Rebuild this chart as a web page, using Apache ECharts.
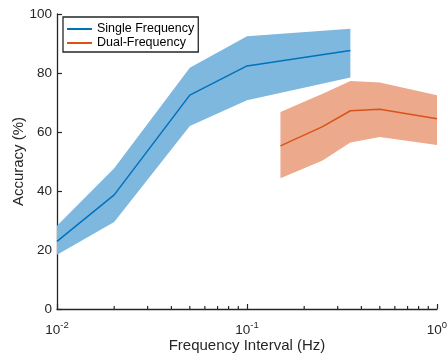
<!DOCTYPE html>
<html><head><meta charset="utf-8">
<script src="https://cdn.jsdelivr.net/npm/echarts@6/dist/echarts.min.js"></script>
<style>html,body{margin:0;padding:0;background:#fff}#c{width:448px;height:356px}</style>
</head><body><div id="c"></div>
<script>
// Data
const singleX     = [0.01, 0.02, 0.05, 0.1, 0.35];
const singleMean  = [22.9, 38.7, 72.5, 82.4, 87.6];
const singleUpper = [28.2, 47.7, 81.8, 92.5, 95.0];
const singleLower = [18.4, 29.5, 62.0, 70.8, 78.5];

const dualX     = [0.15, 0.25, 0.35, 0.5, 1.0];
const dualMean  = [55.3, 61.8, 67.2, 67.7, 64.5];
const dualUpper = [66.8, 73.0, 77.3, 76.8, 72.5];
const dualLower = [44.3, 50.3, 56.4, 58.3, 55.6];

const minorTickX = [0.02,0.03,0.04,0.05,0.06,0.07,0.08,0.09,0.2,0.3,0.4,0.5,0.6,0.7,0.8,0.9];

const blue = '#0072BD', orange = '#D95319';
const blueFill = '#7FB8DE', orangeFill = '#ECA98C';
const axisColor = '#262626';
const font = 'Liberation Sans, Arial, Helvetica, sans-serif';

function band(xs, up, lo, fill) {
  return {
    type: 'custom',
    silent: true,
    z: 1,
    data: [[xs[0], up[0]]],
    renderItem: function (params, api) {
      const pts = [];
      for (let i = 0; i < xs.length; i++) pts.push(api.coord([xs[i], up[i]]));
      for (let i = xs.length - 1; i >= 0; i--) pts.push(api.coord([xs[i], lo[i]]));
      return { type: 'polygon', shape: { points: pts }, style: { fill: fill, stroke: null } };
    }
  };
}

const chart = echarts.init(document.getElementById('c'), null, { renderer: 'canvas' });
chart.setOption({
  animation: false,
  backgroundColor: '#fff',
  grid: { left: 57, right: 11, top: 14, bottom: 47, containLabel: false, outerBoundsMode: 'none' },
  legend: {
    data: ['Single Frequency', 'Dual-Frequency'],
    orient: 'vertical',
    left: 63, top: 17,
    backgroundColor: '#fff',
    borderColor: axisColor, borderWidth: 1.3, borderRadius: 0,
    padding: [5, 4, 2, 4],
    itemGap: 0,
    itemWidth: 25, itemHeight: 2,
    icon: 'rect',
    textStyle: { fontFamily: font, fontSize: 12.5, lineHeight: 14, color: '#000' }
  },
  xAxis: {
    type: 'log', logBase: 10, min: 0.01, max: 1,
    name: 'Frequency Interval (Hz)', nameLocation: 'middle', nameGap: 29, nameMoveOverlap: false,
    nameTextStyle: { fontFamily: font, fontSize: 15, color: axisColor },
    axisLine: { lineStyle: { color: axisColor, width: 1.3 } },
    axisTick: { inside: true, length: 5, lineStyle: { color: axisColor, width: 1.2 } },
    splitLine: { show: false },
    axisLabel: {
      margin: 8,
      formatter: function (v) {
        const e = Math.round(Math.log10(v));
        return '{b|10}{s|' + e + '}';
      },
      rich: {
        b: { fontFamily: font, fontSize: 13.5, color: axisColor, padding: [6, 0, 0, 0] },
        s: { fontFamily: font, fontSize: 9.5, color: axisColor, padding: [0, 0, 4, 0] }
      }
    }
  },
  yAxis: {
    type: 'value', min: 0, max: 100, interval: 20,
    name: 'Accuracy (%)', nameLocation: 'middle', nameGap: 31, nameRotate: 90, nameMoveOverlap: false,
    nameTextStyle: { fontFamily: font, fontSize: 15, color: axisColor },
    axisLine: { show: true, lineStyle: { color: axisColor, width: 1.3 } },
    axisTick: { show: true, inside: true, length: 5, lineStyle: { color: axisColor, width: 1.2 } },
    splitLine: { show: false },
    axisLabel: { fontFamily: font, fontSize: 13.5, color: axisColor, margin: 5 }
  },
  series: [
    band(singleX, singleUpper, singleLower, blueFill),
    band(dualX, dualUpper, dualLower, orangeFill),
    {
      type: 'custom', silent: true, z: 5,
      data: minorTickX.map(x => [x, 0]),
      renderItem: function (params, api) {
        const p = api.coord([api.value(0), 0]);
        return { type: 'line', shape: { x1: p[0], y1: p[1], x2: p[0], y2: p[1] - 3 },
                 style: { stroke: axisColor, lineWidth: 1.2 } };
      }
    },
    {
      name: 'Single Frequency', type: 'line', z: 3,
      data: singleX.map((x, i) => [x, singleMean[i]]),
      showSymbol: false, symbol: 'none',
      lineStyle: { color: blue, width: 1.5 }, itemStyle: { color: blue }
    },
    {
      name: 'Dual-Frequency', type: 'line', z: 3,
      data: dualX.map((x, i) => [x, dualMean[i]]),
      showSymbol: false, symbol: 'none',
      lineStyle: { color: orange, width: 1.5 }, itemStyle: { color: orange }
    }
  ]
});
</script></body></html>
